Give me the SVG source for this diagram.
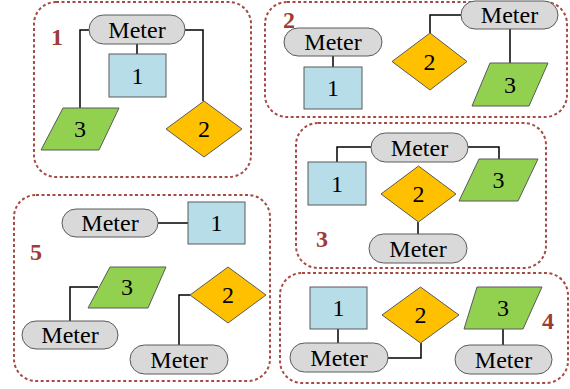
<svg xmlns="http://www.w3.org/2000/svg" width="570" height="389" viewBox="0 0 570 389">
<style>
.panel{fill:none;stroke:#a64b44;stroke-width:2;stroke-dasharray:3 2.5}
.pl{font-weight:bold;font-size:24px;fill:#9e3b35;text-anchor:middle}
.meter{fill:#d9d9d9;stroke:#5a5a5a;stroke-width:1}
.box{fill:#b7dde8;stroke:#5a5a5a;stroke-width:1}
.dia{fill:#ffc000;stroke:#5a5a5a;stroke-width:1}
.par{fill:#92d050;stroke:#5a5a5a;stroke-width:1}
.t{font-size:24px;fill:#000;text-anchor:middle}
.c{fill:none;stroke:#000;stroke-width:1.5}
</style>
<g font-family="'Liberation Serif', 'Times New Roman', 'DejaVu Serif', serif">
<g id="panels">
<rect class="panel" x="34" y="2" width="217" height="175" rx="22"/>
<rect class="panel" x="265" y="2" width="302" height="115" rx="22"/>
<rect class="panel" x="296" y="123" width="250" height="145" rx="22"/>
<rect class="panel" x="14" y="195" width="256" height="186" rx="22"/>
<rect class="panel" x="280" y="273" width="288" height="110" rx="22"/>
<text class="pl" x="57" y="45">1</text>
<text class="pl" x="289" y="28">2</text>
<text class="pl" x="322" y="247">3</text>
<text class="pl" x="548" y="329">4</text>
<text class="pl" x="36" y="260">5</text>
</g>
<g id="connectors">
<path class="c" d="M137 44V54"/>
<path class="c" d="M89 30H80V108"/>
<path class="c" d="M185 30H203V101"/>
<path class="c" d="M333 56V67"/>
<path class="c" d="M461 15H430V33"/>
<path class="c" d="M510 29V63"/>
<path class="c" d="M371 147H337V162"/>
<path class="c" d="M468 147H499V159"/>
<path class="c" d="M418 222V234"/>
<path class="c" d="M158 223H188"/>
<path class="c" d="M98 287H70V321"/>
<path class="c" d="M190 295H179V345"/>
<path class="c" d="M338 329V343"/>
<path class="c" d="M388 358H421V343"/>
<path class="c" d="M503 329V345"/>
</g>
<g id="p1-meter"><rect class="meter" x="89" y="15" width="96" height="29" rx="14.5"/><text class="t" x="137" y="38">Meter</text></g>
<g id="p1-box1"><rect class="box" x="109" y="54" width="57" height="43"/><text class="t" x="137.5" y="84">1</text></g>
<g id="p1-par3"><polygon class="par" points="63,108 119,108 99,150 41,150"/><text class="t" x="80" y="137">3</text></g>
<g id="p1-dia2"><polygon class="dia" points="204,101 242,129 204,157 166,129"/><text class="t" x="204" y="137">2</text></g>
<g id="p2-meterA"><rect class="meter" x="284" y="28" width="98" height="28" rx="14"/><text class="t" x="333" y="50">Meter</text></g>
<g id="p2-box1"><rect class="box" x="304" y="67" width="58" height="42"/><text class="t" x="333" y="96">1</text></g>
<g id="p2-dia2"><polygon class="dia" points="430,33 467,61.5 430,90 392,61.5"/><text class="t" x="429.5" y="69.5">2</text></g>
<g id="p2-meterB"><rect class="meter" x="461" y="1" width="97" height="28" rx="14"/><text class="t" x="509.5" y="23">Meter</text></g>
<g id="p2-par3"><polygon class="par" points="490,63 548,63 529,106 472,106"/><text class="t" x="510" y="93">3</text></g>
<g id="p3-meterTop"><rect class="meter" x="371" y="133" width="97" height="29" rx="14.5"/><text class="t" x="419.5" y="155.5">Meter</text></g>
<g id="p3-box1"><rect class="box" x="308" y="162" width="58" height="43"/><text class="t" x="337" y="192">1</text></g>
<g id="p3-par3"><polygon class="par" points="479,159 538,159 518,201 459,201"/><text class="t" x="498.5" y="188">3</text></g>
<g id="p3-dia2"><polygon class="dia" points="418.5,166 456,194 418.5,222 381,194"/><text class="t" x="418.5" y="202">2</text></g>
<g id="p3-meterBottom"><rect class="meter" x="369" y="234" width="98" height="29" rx="14.5"/><text class="t" x="418" y="256.5">Meter</text></g>
<g id="p5-meter1"><rect class="meter" x="62" y="209" width="96" height="28" rx="14"/><text class="t" x="110" y="231">Meter</text></g>
<g id="p5-box1"><rect class="box" x="188" y="202" width="57" height="42"/><text class="t" x="216.5" y="231">1</text></g>
<g id="p5-par3"><polygon class="par" points="110,267 166,267 148,308 88,308"/><text class="t" x="127" y="295">3</text></g>
<g id="p5-meter3"><rect class="meter" x="22" y="321" width="96" height="28" rx="14"/><text class="t" x="70" y="343">Meter</text></g>
<g id="p5-dia2"><polygon class="dia" points="228,267 266,295 228,323 190,295"/><text class="t" x="228" y="303">2</text></g>
<g id="p5-meter2"><rect class="meter" x="130" y="345" width="98" height="29" rx="14.5"/><text class="t" x="179" y="367.5">Meter</text></g>
<g id="p4-box1"><rect class="box" x="310" y="287" width="57" height="42"/><text class="t" x="338.5" y="316">1</text></g>
<g id="p4-meter1"><rect class="meter" x="290" y="343" width="98" height="29" rx="14.5"/><text class="t" x="339" y="365.5">Meter</text></g>
<g id="p4-dia2"><polygon class="dia" points="420.5,287 459,315 420.5,343 382,315"/><text class="t" x="420.5" y="323">2</text></g>
<g id="p4-par3"><polygon class="par" points="477,287 542,287 523,329 464,329"/><text class="t" x="503" y="316">3</text></g>
<g id="p4-meter3"><rect class="meter" x="455" y="345" width="97" height="29" rx="14.5"/><text class="t" x="503.5" y="367.5">Meter</text></g>
</g>
</svg>
